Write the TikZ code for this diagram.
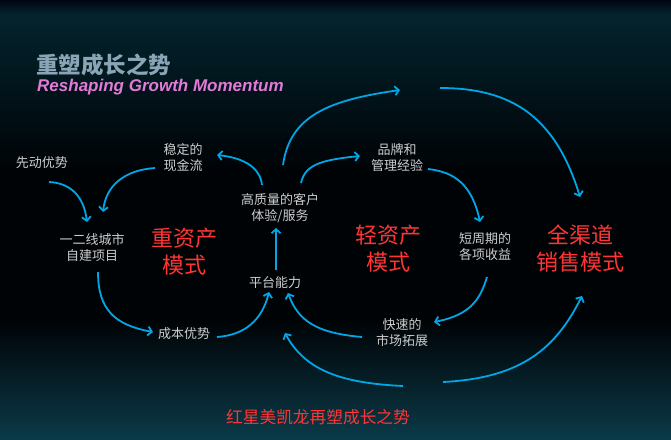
\documentclass[tikz,border=0pt]{standalone}
\usepackage{fontspec}
\setmainfont{Liberation Sans}
\newfontfamily\cjk{Noto Sans CJK SC}
\usetikzlibrary{arrows.meta,calc}
\definecolor{arrowc}{HTML}{00A6E6}
\definecolor{lblgray}{HTML}{CDCDCD}
\definecolor{modered}{HTML}{FF3535}
\definecolor{titlec}{HTML}{89A5B6}
\definecolor{pinkc}{HTML}{E27AD8}
\definecolor{bgA}{HTML}{000612}
\definecolor{bgB}{HTML}{04232E}
\definecolor{bgC}{HTML}{021A22}
\definecolor{bgD}{HTML}{000306}
\definecolor{bgE}{HTML}{0B3A48}
\begin{document}
\begin{tikzpicture}[x=1pt,y=-1pt,
  lbl/.style={text=lblgray, align=center, inner sep=0pt, font=\fontsize{13}{16}\selectfont\cjk},
  mode/.style={text=modered, align=center, inner sep=0pt, font=\fontsize{22}{27}\selectfont\cjk},
  flow/.style={draw=arrowc, line width=1.8pt, -{Straight Barb[length=4pt,width=9pt]}},
]
\useasboundingbox (0,0) rectangle (671,439);
% background
\shade[top color=bgA, bottom color=bgB] (0,0) rectangle (671,14);
\shade[top color=bgB, bottom color=bgC] (0,14) rectangle (671,60);
\shade[top color=bgC, bottom color=bgD] (0,60) rectangle (671,170);
\fill[bgD] (0,170) rectangle (671,320);
\shade[top color=bgD, bottom color=bgE] (0,320) rectangle (671,439.5);

% titles
\node[anchor=west, inner sep=0pt, text=titlec, font=\fontsize{22.5}{24}\selectfont\cjk\bfseries] (title) at (36,65) {重塑成长之势};
\node[anchor=west, inner sep=0pt, text=pinkc, font=\fontsize{17}{18}\selectfont\bfseries\itshape] (sub) at (37,87) {Reshaping Growth Momentum};

% labels
\node[lbl] (xd) at (42,163) {先动优势};
\node[lbl] (wd) at (183,157.5) {稳定的\\现金流};
\node[lbl] (yx) at (92,248) {一二线城市\\自建项目};
\node[mode] (zz) at (184,251.5) {重资产\\模式};
\node[lbl] (cb) at (184,334) {成本优势};
\node[lbl] (gz) at (280,208) {高质量的客户\\体验/服务};
\node[lbl] (pt) at (275,283) {平台能力};
\node[lbl] (pp) at (397,157.5) {品牌和\\管理经验};
\node[mode] (qz) at (388,248.5) {轻资产\\模式};
\node[lbl] (dz) at (485,247) {短周期的\\各项收益};
\node[lbl] (ks) at (402,333) {快速的\\市场拓展};
\node[mode] (qq) at (580,248.5) {全渠道\\销售模式};
\node[text=modered, inner sep=0pt, font=\fontsize{16.7}{18}\selectfont\cjk] (foot) at (318,417) {红星美凯龙再塑成长之势};

% free ends
\coordinate (topL) at (400,90);
\coordinate (topR) at (440,88);
\coordinate (botL) at (403,386);
\coordinate (botR) at (443,382);

% arrows
\draw[flow] ($(xd)+(7,19)$) .. controls (72,183) and (84,198) .. ($(yx)+(-5,-26)$);
\draw[flow] ($(wd)+(-28,10.5)$) .. controls (125,170) and (106,185) .. ($(yx)+(11,-36)$);
\draw[flow] ($(gz)+(-18,-23)$) .. controls (260,168) and (245,158) .. ($(wd)+(34,-2.5)$);
\draw[flow] ($(yx)+(6,24)$) .. controls (98,310) and (115,325) .. ($(cb)+(-31,-2)$);
\draw[flow] ($(cb)+(33,3)$) .. controls (245,335) and (262,320) .. ($(pt)+(-6,9)$);
\draw[flow] ($(pt)+(1,-13)$) -- ($(gz)+(-4,20)$);
\draw[flow] ($(gz)+(3,-43)$) .. controls (290,115) and (330,100) .. (topL);
\draw[flow] ($(gz)+(21,-25)$) .. controls (305,165) and (320,160) .. ($(pp)+(-37,-1.5)$);
\draw[flow] ($(pp)+(31,11.5)$) .. controls (455,172) and (472,185) .. ($(dz)+(-5,-25)$);
\draw[flow] ($(dz)+(2,30)$) .. controls (480,300) and (470,315) .. ($(ks)+(32,-11)$);
\draw[flow] ($(ks)+(-40,4)$) .. controls (315,333) and (298,320) .. ($(pt)+(13,10)$);
\draw[flow] (topR) .. controls (510,88) and (555,115) .. ($(qq)+(0,-51.5)$);
\draw[flow] (botL) .. controls (340,383) and (305,370) .. ($(pt)+(10,50)$);
\draw[flow] (botR) .. controls (520,378) and (555,350) .. ($(qq)+(2,47.5)$);
\end{tikzpicture}
\end{document}
